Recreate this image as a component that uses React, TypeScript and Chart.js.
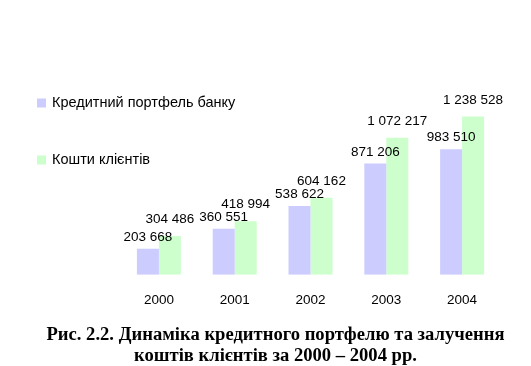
import React, { useEffect, useRef } from "react";
import { Chart, registerables } from "chart.js";

Chart.register(...registerables);

const years = ["2000", "2001", "2002", "2003", "2004"];
const creditPortfolio = [203668, 360551, 538622, 871206, 983510];
const clientFunds = [304486, 418994, 604162, 1072217, 1238528];
const seriesNames = ["Кредитний портфель банку", "Кошти клієнтів"];
const seriesColors = ["#CCCCFF", "#CCFFCC"];
const labelGaps = [5, 10];
const captionLines = [
  "Рис. 2.2. Динаміка кредитного портфелю та залучення",
  "коштів клієнтів за 2000 – 2004 рр.",
];

const fmt = (n: number) => n.toString().replace(/\B(?=(\d{3})+(?!\d))/g, " ");

const labelsPlugin = {
  id: "valueLabels",
  afterDatasetsDraw(chart: any) {
    const ctx = chart.ctx;
    ctx.save();
    ctx.font = '13.5px "Liberation Sans", Arial, sans-serif';
    ctx.fillStyle = "#000";
    ctx.textAlign = "center";
    ctx.textBaseline = "bottom";
    chart.data.datasets.forEach((ds: any, di: number) => {
      const meta = chart.getDatasetMeta(di);
      meta.data.forEach((el: any, i: number) => {
        ctx.fillText(fmt(ds.data[i]), el.x, el.y - labelGaps[di]);
      });
    });
    ctx.restore();
  },
};

const legendPlugin = {
  id: "customLegend",
  afterDraw(chart: any) {
    const ctx = chart.ctx;
    ctx.save();
    ctx.font = '14.5px "Liberation Sans", Arial, sans-serif';
    ctx.textBaseline = "middle";
    ctx.textAlign = "left";
    const ys = [103, 160];
    chart.data.datasets.forEach((ds: any, di: number) => {
      ctx.fillStyle = ds.backgroundColor;
      ctx.fillRect(37, ys[di] - 4.5, 9, 9);
      ctx.fillStyle = "#000";
      ctx.fillText(ds.label, 52, ys[di]);
    });
    ctx.restore();
  },
};

export default function App() {
  const ref = useRef<HTMLCanvasElement>(null);
  useEffect(() => {
    document.body.style.margin = "0";
    const chart = new Chart(ref.current!, {
      type: "bar",
      data: {
        labels: years,
        datasets: [
          { label: seriesNames[0], data: creditPortfolio, backgroundColor: seriesColors[0], borderWidth: 0 },
          { label: seriesNames[1], data: clientFunds, backgroundColor: seriesColors[1], borderWidth: 0 },
        ],
      },
      options: {
        animation: false,
        responsive: false,
        events: [],
        layout: { padding: { top: 96, left: 121, right: 31, bottom: 2 } },
        plugins: { legend: { display: false }, tooltip: { enabled: false } },
        datasets: { bar: { categoryPercentage: 0.58, barPercentage: 1 } },
        scales: {
          x: {
            grid: { display: false, drawTicks: false },
            border: { display: false },
            ticks: {
              color: "#000",
              padding: 17,
              font: { family: '"Liberation Sans", Arial, sans-serif', size: 13.5 },
            },
          },
          y: { display: false, min: 0, max: 1400000 },
        },
      },
      plugins: [labelsPlugin, legendPlugin],
    });
    return () => chart.destroy();
  }, []);
  return (
    <div style={{ position: "relative", width: 531, height: 366, background: "#fff" }}>
      <canvas ref={ref} width={531} height={327} style={{ display: "block", position: "absolute", top: 0, left: 0 }} />
      <div
        style={{
          position: "absolute",
          top: 323,
          left: 20,
          width: 511,
          textAlign: "center",
          fontFamily: '"Liberation Serif", "Times New Roman", serif',
          fontWeight: "bold",
          fontSize: 18.6,
          lineHeight: "21px",
          color: "#000",
        }}
      >
        {captionLines.map((l, i) => (
          <div key={i}>{l}</div>
        ))}
      </div>
    </div>
  );
}
